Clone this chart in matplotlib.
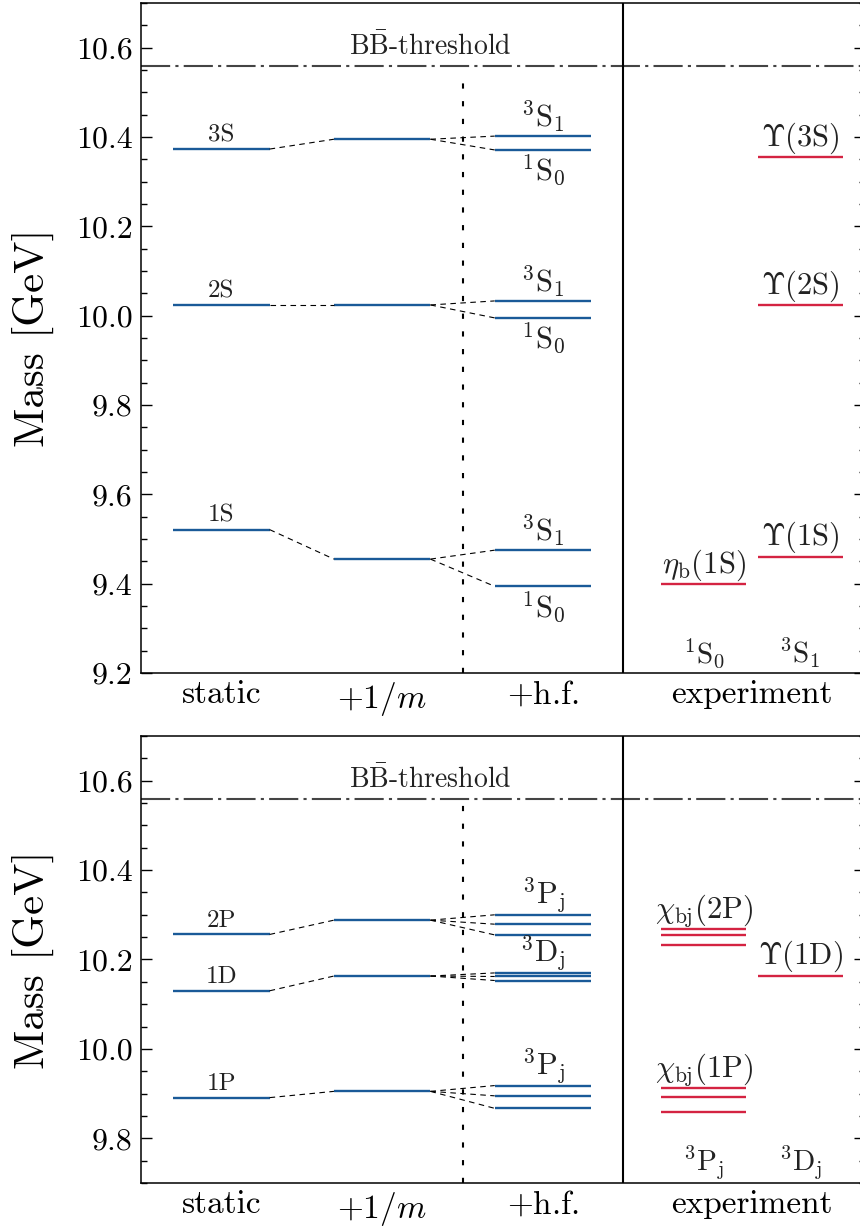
import numpy as np
import matplotlib
matplotlib.use("Agg")
import matplotlib.pyplot as plt
from matplotlib.ticker import MultipleLocator

plt.rcParams['font.family'] = ['cmr10', 'DejaVu Serif']
plt.rcParams['mathtext.fontset'] = 'cm'
plt.rcParams['axes.formatter.use_mathtext'] = True

BLUE = '#1a5a98'
RED = '#d42342'

# column positions: static, +1/m, +h.f., experiment (two sub-columns)
columns = [r'static', r'$+1/m$', r'$+$h.f.', r'experiment']
col_x = [1.0, 2.0, 3.0, 4.3]
exp_left, exp_right = 4.0, 4.6

threshold = 10.558

# S-wave panel
s_names = ['1S', '2S', '3S']
s_static = [9.521, 10.024, 10.373]
s_recoil = [9.455, 10.024, 10.395]
s_hf_triplet = [9.475, 10.033, 10.402]
s_hf_singlet = [9.394, 9.995, 10.371]
exp_eta = [9.399]
exp_eta_names = ['1']
exp_ups = [9.460, 10.023, 10.355]
exp_ups_names = ['1', '2', '3']

# P/D-wave panel
pd_names = ['1P', '1D', '2P']
pd_static = [9.891, 10.130, 10.256]
pd_recoil = [9.905, 10.163, 10.288]
pd_hf = [[9.918, 9.895, 9.867],
         [10.170, 10.162, 10.153],
         [10.300, 10.279, 10.255]]
pd_hf_labels = [r'$^3\mathrm{P}_\mathrm{j}$', r'$^3\mathrm{D}_\mathrm{j}$', r'$^3\mathrm{P}_\mathrm{j}$']
exp_chi1p = [9.913, 9.893, 9.859]
exp_chi2p = [10.269, 10.255, 10.232]
exp_ups1d = [10.164]

fig = plt.figure(figsize=(8.6, 12.26), dpi=100)
x0 = 141 / 860
x1 = 864.5 / 860
ax1 = fig.add_axes([x0, 1 - 673 / 1226, x1 - x0, 670 / 1226])
ax2 = fig.add_axes([x0, 1 - 1183 / 1226, x1 - x0, 447 / 1226])

HW = 0.3
EHW = 0.265
LW = 1.7
TXT = '#222222'


def frame(ax, ylo):
    ax.set_xlim(0.5, 5.0)
    ax.set_ylim(ylo, 10.7)
    ax.yaxis.set_major_locator(MultipleLocator(0.2))
    ax.yaxis.set_minor_locator(MultipleLocator(0.05))
    ax.yaxis.set_major_formatter(matplotlib.ticker.FormatStrFormatter('%.1f'))
    ax.tick_params(axis='y', which='both', direction='in', left=True, right=True,
                   labelsize=23, width=1.0, pad=6)
    ax.tick_params(axis='y', which='major', length=8)
    ax.tick_params(axis='y', which='minor', length=4.5)
    ax.set_xticks(col_x)
    ax.set_xticklabels(columns)
    ax.tick_params(axis='x', length=0, labelsize=24, pad=5)
    ax.set_ylabel('Mass [GeV]', fontsize=31, labelpad=16)
    for s in ax.spines.values():
        s.set_linewidth(1.1)
    ax.axhline(threshold, color='#444444', lw=1.5, ls=(0, (14, 2.5, 1.5, 2.5)))
    ax.annotate(r'B$\bar{\mathrm{B}}$-threshold', (2.3, threshold), xytext=(0, 4),
                textcoords='offset points', ha='center', va='bottom', fontsize=20, color=TXT)
    ax.plot([2.5, 2.5], [ylo, threshold - 0.01], color='black', lw=1.5, ls=(0, (2.5, 6)))
    ax.axvline(3.5, color='black', lw=1.5)


def level(ax, x, y, hw, color):
    ax.hlines(y, x - hw, x + hw, color=color, lw=LW)


def connect(ax, xa, ya, xb, yb):
    ax.plot([xa, xb], [ya, yb], color='black', lw=0.8, ls=(0, (5, 4)))


def label(ax, x, y, txt, size, dy, va):
    ax.annotate(txt, (x, y), xytext=(0, dy), textcoords='offset points',
                ha='center', va=va, fontsize=size, color=TXT)


# ---- top panel: S waves ----
frame(ax1, 9.2)
for n, ys, yr, yt, ysg in zip(s_names, s_static, s_recoil, s_hf_triplet, s_hf_singlet):
    level(ax1, 1, ys, HW, BLUE)
    level(ax1, 2, yr, HW, BLUE)
    level(ax1, 3, yt, HW, BLUE)
    level(ax1, 3, ysg, HW, BLUE)
    connect(ax1, 1 + HW, ys, 2 - HW, yr)
    connect(ax1, 2 + HW, yr, 3 - HW, yt)
    connect(ax1, 2 + HW, yr, 3 - HW, ysg)
    label(ax1, 1, ys, n, 18, 2, 'bottom')
    label(ax1, 3, yt, r'$^3\mathrm{S}_1$', 22, 1, 'bottom')
    label(ax1, 3, ysg, r'$^1\mathrm{S}_0$', 22, -2, 'top')

for n, y in zip(exp_eta_names, exp_eta):
    level(ax1, exp_left, y, EHW, RED)
    label(ax1, exp_left, y, r'$\eta_\mathrm{b}(%s\mathrm{S})$' % n, 22, 1, 'bottom')
for n, y in zip(exp_ups_names, exp_ups):
    level(ax1, exp_right, y, EHW, RED)
    label(ax1, exp_right, y, r'$\Upsilon(%s\mathrm{S})$' % n, 22, 1, 'bottom')

ax1.text(exp_left, 0.005, r'$^1\mathrm{S}_0$', transform=ax1.get_xaxis_transform(),
         ha='center', va='bottom', fontsize=21, color=TXT)
ax1.text(exp_right, 0.005, r'$^3\mathrm{S}_1$', transform=ax1.get_xaxis_transform(),
         ha='center', va='bottom', fontsize=21, color=TXT)

# ---- bottom panel: P and D waves ----
frame(ax2, 9.7)
for n, ys, yr, hf, hl in zip(pd_names, pd_static, pd_recoil, pd_hf, pd_hf_labels):
    level(ax2, 1, ys, HW, BLUE)
    level(ax2, 2, yr, HW, BLUE)
    connect(ax2, 1 + HW, ys, 2 - HW, yr)
    for yh in hf:
        level(ax2, 3, yh, HW, BLUE)
        connect(ax2, 2 + HW, yr, 3 - HW, yh)
    label(ax2, 1, ys, n, 18, 2, 'bottom')
    label(ax2, 3, max(hf), hl, 22, 0, 'bottom')

for y in exp_chi1p:
    level(ax2, exp_left, y, EHW, RED)
for y in exp_chi2p:
    level(ax2, exp_left, y, EHW, RED)
for y in exp_ups1d:
    level(ax2, exp_right, y, EHW, RED)
label(ax2, exp_left, max(exp_chi2p), r'$\chi_\mathrm{bj}(2\mathrm{P})$', 22, 0, 'bottom')
label(ax2, exp_left, max(exp_chi1p), r'$\chi_\mathrm{bj}(1\mathrm{P})$', 22, 0, 'bottom')
label(ax2, exp_right, exp_ups1d[0], r'$\Upsilon(1\mathrm{D})$', 22, 1, 'bottom')

ax2.text(exp_left, 0.005, r'$^3\mathrm{P}_\mathrm{j}$', transform=ax2.get_xaxis_transform(),
         ha='center', va='bottom', fontsize=21, color=TXT)
ax2.text(exp_right, 0.005, r'$^3\mathrm{D}_\mathrm{j}$', transform=ax2.get_xaxis_transform(),
         ha='center', va='bottom', fontsize=21, color=TXT)

fig.savefig('out.png', dpi=100)
